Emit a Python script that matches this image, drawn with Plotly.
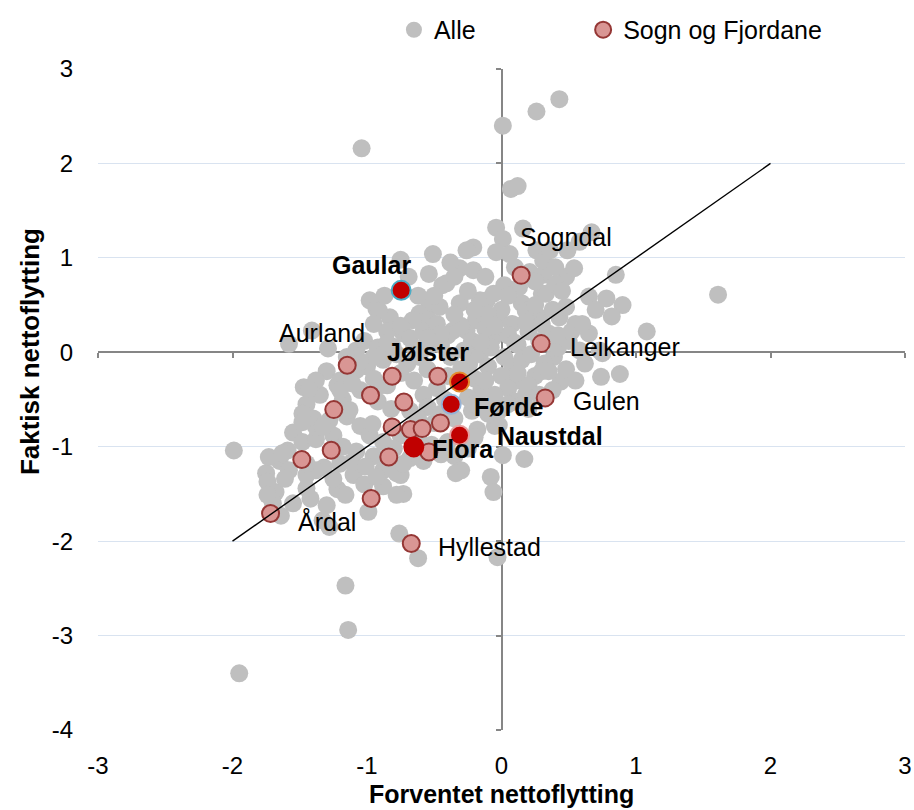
import plotly.graph_objects as go

# ---------------- data ----------------
x_ticks = [-3, -2, -1, 0, 1, 2, 3]
y_ticks = [-4, -3, -2, -1, 0, 1, 2, 3]

alle_x = [
    -1.04, 0.01, 0.26, 0.43, 0.07, 0.12, -0.04, 0.16, 0.67, -0.21,
    -0.51, 0.01, -0.04, 0.26, 0.49, 0.58, -0.26, -0.31, 0.31, 0.48,
    0.54, 0.85, -0.44, 0.02, 0.30, 0.65, 0.78, 0.90, 0.82, 1.08,
    1.61, 0.75, 0.88, 0.74, 0.39, 0.44, 0.28, 0.55, 0.43, 0.65,
    0.73, -0.11, -0.31, -0.54, 0.15, 0.48, -0.21, -0.54, -0.41, -0.98,
    -0.93, -0.83, -0.61, -0.46, -0.54, -0.16, -0.06, 0.13, 0.33, 0.06,
    0.31, 0.36, -0.81, -0.73, -0.61, -0.36, -0.19, -0.06, 0.08, 0.18,
    -1.58, -1.41, -1.29, -1.08, -0.66, -0.91, -0.24, -0.26, -0.75, -0.69,
    -0.87, -0.62, -0.38, 0.21, 0.10, -0.12, 0.40, 0.45, 0.70, 0.25,
    -0.95, -0.85, -0.75, -0.68, -0.58, -0.48, -0.40, -0.30, -0.22, -0.12,
    -0.02, 0.05, 0.12, 0.20, 0.28, 0.35, 0.42, 0.50, 0.58, 0.62,
    -1.02, -0.92, -0.88, -0.78, -0.70, -0.55, -0.45, -0.38, -0.28, -0.16,
    -0.08, 0.02, 0.08, 0.15, 0.22, 0.32, 0.48, 0.55, 0.25, 0.12,
    -1.15, -1.10, -1.00, -0.95, -0.85, -0.75, -0.65, -0.55, -0.48, -0.40,
    -0.30, -0.20, -0.10, 0.00, 0.05, -0.05, -0.15, -0.25, -0.42, -0.58,
    -1.30, -1.22, -1.35, -1.18, -1.05, -0.92, -0.82, -0.68, -0.55, -0.45,
    -0.35, -0.22, -0.12, -0.02, 0.10, 0.18, -0.05, -0.18, -0.28, -0.40,
    -1.45, -1.40, -1.28, -1.15, -1.05, -0.98, -0.88, -0.75, -0.62, -0.52,
    -1.55, -1.48, -1.38, -1.25, -1.18, -1.08, -0.95, -0.80, -0.68, -0.58,
    -1.65, -1.58, -1.45, -1.32, -1.20, -1.10, -0.88, -0.75, -1.02, -0.88,
    -1.68, -1.55, -1.42, -1.30, -1.75, -1.70, -1.22, -0.45, -0.35, -0.25,
    0.17, 0.01, -0.30, -0.08, -0.06, -0.73, -0.03, -1.99, -1.73, -1.59,
    -1.74, -1.61, -1.74, -1.64, -1.45, -1.38, -1.28, -1.16, -0.99, -0.93,
    -0.78, -0.76, -0.62, -1.16, -1.14, -1.95, -0.78, -1.11, -1.25, -1.45,
    -1.33, -0.02, -1.47, -1.38, -1.20, -1.48, -1.38, -1.63, -1.43, -1.48,
    -1.20, -1.33, -1.08, -1.11, -1.13, -0.96, -1.01, -0.73, -0.34, -0.20,
    -0.10, 0.05, 0.30, 0.20, 0.38, -0.50, -0.20, -0.62, -0.90, -1.05,
    0.10, 0.18, 0.30, 0.38, 0.42, 0.52, 0.60, 0.35, 0.20, 0.00,
    -0.10, -0.20, -0.35, -0.45, -0.55, -0.65, -0.85, -0.95, -1.05, -0.15,
    -0.05, 0.05, -0.25, -0.35, -0.50, 0.25, 0.40, 0.12, 0.28, -0.12,
]
alle_y = [
    2.16, 2.40, 2.55, 2.68, 1.73, 1.76, 1.32, 1.31, 1.27, 1.11,
    1.04, 1.20, 1.06, 1.08, 1.08, 1.17, 1.08, 0.89, 0.82, 0.80,
    0.89, 0.82, 0.71, 0.71, 0.62, 0.59, 0.57, 0.50, 0.38, 0.22,
    0.61, -0.01, -0.23, -0.26, -0.05, -0.31, 0.37, 0.30, 0.37, 0.20,
    0.02, 0.55, 0.52, 0.48, 0.52, 0.48, 0.87, 0.83, 0.73, 0.55,
    0.46, 0.37, 0.41, 0.48, 0.34, 0.55, 0.62, 0.69, 0.62, 1.04,
    0.97, 1.08, 0.06, 0.20, -0.05, 0.23, 0.34, 0.16, 0.30, 0.44,
    0.09, 0.23, 0.04, 0.02, 0.34, 0.44, -0.12, 0.23, 0.98, 0.80,
    0.60, 0.60, 0.95, 0.85, 0.90, 0.80, 0.72, 0.65, 0.45, 0.50,
    0.30, 0.22, 0.28, 0.15, 0.22, 0.30, 0.18, 0.28, 0.12, 0.25,
    0.35, 0.18, 0.08, 0.22, 0.12, 0.20, 0.05, 0.12, 0.02, -0.12,
    0.12, 0.05, -0.08, -0.02, -0.12, 0.05, 0.08, -0.05, 0.02, -0.02,
    0.05, -0.05, -0.15, -0.08, -0.02, -0.12, -0.18, -0.30, -0.25, -0.30,
    -0.05, -0.20, -0.15, -0.28, -0.35, -0.22, -0.30, -0.18, -0.38, -0.25,
    -0.18, -0.28, -0.15, -0.25, -0.38, -0.45, -0.40, -0.48, -0.50, -0.45,
    -0.20, -0.35, -0.45, -0.50, -0.40, -0.52, -0.60, -0.62, -0.58, -0.65,
    -0.70, -0.62, -0.58, -0.62, -0.52, -0.45, -0.78, -0.82, -0.92, -0.95,
    -0.55, -0.70, -0.72, -0.68, -0.78, -0.88, -0.95, -0.88, -0.90, -0.98,
    -0.85, -0.95, -0.92, -0.88, -1.00, -1.05, -1.10, -1.02, -1.12, -1.15,
    -1.15, -1.25, -1.30, -1.22, -1.18, -1.30, -1.25, -1.30, -1.40, -1.42,
    -1.48, -1.60, -1.55, -1.62, -1.28, -1.60, -1.45, -1.08, -1.10, -1.02,
    -1.13, -1.09, -1.25, -1.32, -1.48, -1.50, -2.17, -1.04, -1.11, -1.04,
    -1.37, -1.34, -1.51, -1.73, -1.44, -1.25, -1.85, -1.51, -1.69, -1.32,
    -1.51, -1.92, -2.18, -2.47, -2.94, -3.40, -1.28, -1.16, -1.34, -1.18,
    -1.78, -0.77, -0.37, -0.30, -0.30, -0.65, -0.79, -1.07, -0.39, -0.74,
    -0.40, -0.79, -0.19, -0.33, -0.61, -0.76, -1.21, -1.18, -1.28, -0.55,
    -0.65, -0.55, -0.20, -0.60, -0.40, -0.75, -0.90, -0.70, -0.35, -0.10,
    0.10, 0.32, 0.30, 0.45, 0.18, 0.22, 0.30, -0.20, -0.35, 0.45,
    0.40, 0.45, 0.40, 0.20, 0.15, 0.05, 0.10, -0.05, -0.10, 0.10,
    0.28, 0.60, 0.65, 0.80, 0.60, 0.75, 0.90, -0.22, -0.45, -0.30,
]

sf_names = ["Sogndal", "Leikanger", "Gulen", "Hyllestad", "Årdal", "Aurland",
            "", "", "", "", "", "", "", "", "", "", "", "", "", ""]
sf_x = [0.146, 0.295, 0.325, -0.671, -1.717, -1.147, -0.813, -0.473, -0.974, -0.726,
        -1.247, -0.813, -0.677, -0.590, -0.454, -1.266, -1.485, -0.838, -0.540, -0.969]
sf_y = [0.815, 0.092, -0.483, -2.025, -1.707, -0.138, -0.254, -0.254, -0.455, -0.526,
        -0.607, -0.790, -0.818, -0.808, -0.748, -1.037, -1.136, -1.108, -1.055, -1.548]

hl_names = ["Gaular", "Jølster", "Førde", "Naustdal", "Flora"]
hl_x = [-0.746, -0.312, -0.374, -0.312, -0.652]
hl_y = [0.656, -0.314, -0.550, -0.878, -1.002]

diag_x = [-2, 2]
diag_y = [-2, 2]

x_title = "Forventet nettoflytting"
y_title = "Faktisk nettoflytting"

# ---------------- styles ----------------
FONT = "Liberation Sans, Arial, sans-serif"
GRAY = "#BFBFBF"
PINK = "#D99694"
PINK_LINE = "#953735"
RED = "#C00000"
AX = "#868686"
hl_border = {"Gaular": "#4BACC6", "Jølster": "#E48A2E", "Førde": "#95B3D7",
             "Naustdal": "#E6A0A0", "Flora": RED}
label_off = {
    "Sogndal": (45, 38), "Leikanger": (84, -3), "Gulen": (61, -3),
    "Hyllestad": (78, -3), "Årdal": (56, -8), "Aurland": (-25, 32),
    "Gaular": (-30, 25), "Jølster": (-32, 30), "Førde": (58, -3),
    "Naustdal": (90, -1), "Flora": (49, -2),
}

fig = go.Figure()
fig.add_trace(go.Scatter(x=alle_x, y=alle_y, mode="markers", name="Alle",
                         legend="legend",
                         marker=dict(size=18, color=GRAY, line=dict(width=0)),
                         hoverinfo="skip"))
fig.add_trace(go.Scatter(x=sf_x, y=sf_y, mode="markers", name="Sogn og Fjordane",
                         legend="legend2",
                         marker=dict(size=17, color=PINK, line=dict(width=2, color=PINK_LINE)),
                         text=sf_names))
for n, xv, yv in zip(hl_names, hl_x, hl_y):
    fig.add_trace(go.Scatter(x=[xv], y=[yv], mode="markers", showlegend=False, name=n,
                             marker=dict(size=19, color=RED,
                                         line=dict(width=2, color=hl_border[n]))))
fig.add_trace(go.Scatter(x=diag_x, y=diag_y, mode="lines", showlegend=False,
                         line=dict(color="black", width=1.4), hoverinfo="skip"))
# dummy trace so the label axes are drawn
fig.add_trace(go.Scatter(x=[None], y=[None], xaxis="x2", yaxis="y2",
                         showlegend=False, hoverinfo="skip"))

annotations = []
for n, xv, yv in list(zip(sf_names, sf_x, sf_y)) + list(zip(hl_names, hl_x, hl_y)):
    if not n:
        continue
    dx, dy = label_off[n]
    bold = n in hl_names
    annotations.append(dict(
        x=xv, y=yv, xref="x", yref="y", text=f"<b>{n}</b>" if bold else n,
        showarrow=False, xshift=dx, yshift=dy,
        font=dict(family=FONT, size=25, color="black")))
annotations.append(dict(x=0.5, y=-0.097, xref="paper", yref="paper",
                        text=f"<b>{x_title}</b>", showarrow=False,
                        xanchor="center", yanchor="middle",
                        font=dict(family=FONT, size=25, color="black")))
annotations.append(dict(x=-0.084, y=0.572, xref="paper", yref="paper",
                        text=f"<b>{y_title}</b>", showarrow=False, textangle=-90,
                        xanchor="center", yanchor="middle",
                        font=dict(family=FONT, size=26, color="black")))

legend_common = dict(orientation="h", yref="container", y=0.963, yanchor="middle",
                     xref="container", xanchor="left",
                     font=dict(family=FONT, size=25, color="black"),
                     bgcolor="rgba(0,0,0,0)", itemsizing="trace")

fig.update_layout(
    width=914, height=810,
    margin=dict(l=98, r=9, t=69, b=80, autoexpand=False),
    paper_bgcolor="white", plot_bgcolor="white",
    font=dict(family=FONT, size=24, color="black"),
    showlegend=True,
    legend=dict(x=0.431, **legend_common),
    legend2=dict(x=0.638, **legend_common),
    xaxis=dict(range=[-3, 3], anchor="free", position=4 / 7, tickvals=x_ticks,
               showticklabels=False, ticks="outside", ticklen=5, tickcolor=AX,
               tickwidth=1.5, showline=True, linecolor=AX, linewidth=1.5,
               showgrid=False, zeroline=False, layer="below traces",
               fixedrange=True, automargin=False),
    yaxis=dict(range=[-4, 3], anchor="free", position=0.5, tickvals=y_ticks,
               showticklabels=False, ticks="outside", ticklen=5, tickcolor=AX,
               tickwidth=1.5, showline=True, linecolor=AX, linewidth=1.5,
               showgrid=True, gridcolor="#D9E3F0", gridwidth=1.2,
               zeroline=False, layer="below traces", fixedrange=True,
               automargin=False),
    xaxis2=dict(range=[-3, 3], overlaying="x", anchor="y2", side="bottom",
                tickvals=x_ticks, ticktext=[str(v) for v in x_ticks],
                tickfont=dict(family=FONT, size=24, color="black"),
                ticklabelstandoff=19, showline=False, ticks="", showgrid=False,
                zeroline=False, automargin=False, fixedrange=True),
    yaxis2=dict(range=[-4, 3], overlaying="y", anchor="x2", side="left",
                tickvals=y_ticks, ticktext=[str(v) for v in y_ticks],
                tickfont=dict(family=FONT, size=24, color="black"),
                ticklabelstandoff=24, showline=False, ticks="", showgrid=False,
                zeroline=False, automargin=False, fixedrange=True),
    annotations=annotations,
)

fig.write_html("out.html",
               config={"displayModeBar": False},
               post_script="document.body.style.margin='0px';"
                           "document.body.style.overflow='hidden';")
